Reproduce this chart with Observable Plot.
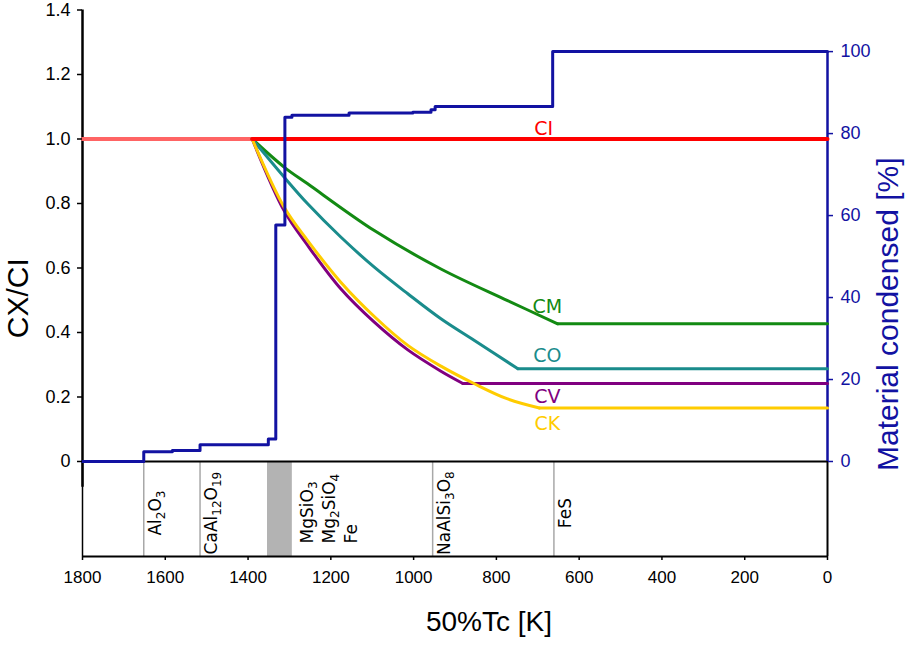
<!DOCTYPE html>
<html><head><meta charset="utf-8">
<script src="https://cdn.jsdelivr.net/npm/d3@7"></script>
<script src="https://cdn.jsdelivr.net/npm/@observablehq/plot@0.6"></script>
<style>body{margin:0;background:#fff} #chart svg{display:block}</style>
</head><body><div id="chart"></div>
<script>
// ---- data ----
const xTicks = [1800,1600,1400,1200,1000,800,600,400,200,0];
const leftTicks = [0,0.2,0.4,0.6,0.8,1.0,1.2,1.4];
const leftTickLabels = ["0","0.2","0.4","0.6","0.8","1.0","1.2","1.4"];
const rightTicks = [0,20,40,60,80,100];
const rightMax = 1.271; // left-axis value where 100 % sits

// material condensed [%] step line
const stepT   = [1800,1652,1583,1516,1351,1333,1311,1294,1156,1002,958,948,664,0];
const stepPct = [0,2.4,2.7,4.1,5.5,57.7,84.0,84.5,85.0,85.2,85.8,86.6,100,100];

// CI reference
const ciT = [1800,1390,0];
const ciV = [1.0,1.0,1.0];

// chondrite depletion curves
const cmT = [1390,1313,1256,1095,934,773,652];
const cmV = [1.0,0.913,0.861,0.716,0.597,0.499,0.427];
const coT = [1390,1313,1256,1176,1095,1014,934,853,748];
const coV = [1.0,0.882,0.799,0.696,0.6025,0.52,0.4425,0.375,0.2875];
const cvT = [1390,1313,1256,1176,1095,1014,934,881];
const cvV = [1.0,0.778,0.670,0.5355,0.432,0.346,0.280,0.242];
const ckT = [1390,1313,1256,1176,1095,1014,934,853,773,696];
const ckV = [1.0,0.789,0.685,0.556,0.4496,0.36,0.2956,0.241,0.194,0.166];
const seriesNames = ["CM","CO","CV","CK"];

// condensing phases
const phaseNames = ["Al₂O₃","CaAl₁₂O₁₉","NaAlSi₃O₈","FeS"];
const phaseT = [1652,1516,954,661];
const bandT = [1353,1293];
const bandNames = "MgSiO₃\nMg₂SiO₄\nFe";

// ---- styles ----
const BLUE = "#1212a2", RED = "#ff0000", LIGHTRED = "#ff6464";
const colors = {CM:"#138a13", CO:"#1a8c8c", CV:"#800080", CK:"#ffcc00"};
const labelDy = {CM:-17, CO:-13, CV:13, CK:16};
const labelT = 677;
const yLow = -0.2946;
const SANS = "'Liberation Sans', Arial, sans-serif";
const VERD = "'DejaVu Sans', Verdana, sans-serif";

const series = {CM:[cmT,cmV], CO:[coT,coV], CV:[cvT,cvV], CK:[ckT,ckV]};
const pts = (T,V) => T.map((t,i)=>({t, v:V[i]}));

const marks = [];
// lower panel
marks.push(Plot.rect([bandT], {x1:d=>d[0], x2:d=>d[1], y1:yLow, y2:0, fill:"#b3b3b3"}));
marks.push(Plot.ruleX(phaseT, {y1:yLow, y2:0, stroke:"#a8a8a8", strokeWidth:1.5}));
marks.push(Plot.ruleY([yLow], {x1:1800, x2:0, stroke:"#000", strokeWidth:2}));
marks.push(Plot.ruleX([1800], {y1:yLow, y2:0, stroke:"#000", strokeWidth:1.5}));
marks.push(Plot.ruleX([0], {y1:yLow, y2:0, stroke:"#000", strokeWidth:2}));
marks.push(Plot.text(phaseNames, {x:phaseT, y:-0.16, rotate:-90, dx:12, fontSize:17, fontFamily:VERD, fill:"#000", textAnchor:"middle", lineAnchor:"middle", className:"subs"}));
marks.push(Plot.text([bandNames], {x:[bandT[1]], y:[-0.254], rotate:-90, dx:5, fontSize:17, fontFamily:VERD, fill:"#000", textAnchor:"start", lineAnchor:"top", lineHeight:1.3, className:"subs"}));
// axes lines
marks.push(Plot.ruleY([0], {x1:1800, x2:0, stroke:"#000", strokeWidth:2}));
marks.push(Plot.ruleX([1800], {y1:-0.08, y2:1.4, stroke:"#000", strokeWidth:2.5}));
marks.push(Plot.ruleX([0], {y1:0, y2:rightMax, stroke:BLUE, strokeWidth:2.5}));
// CI
const ci = pts(ciT, ciV);
marks.push(Plot.line(ci.slice(0,2), {x:"t", y:"v", stroke:LIGHTRED, strokeWidth:4}));
// curves
for (const s of seriesNames) {
  const [T,V] = series[s];
  const p = pts(T,V);
  marks.push(Plot.line(p, {x:"t", y:"v", curve:"catmull-rom", stroke:colors[s], strokeWidth:3}));
  marks.push(Plot.line([p[p.length-1], {t:0, v:V[V.length-1]}], {x:"t", y:"v", stroke:colors[s], strokeWidth:3}));
  marks.push(Plot.text([s], {x:labelT, y:V[V.length-1], dy:labelDy[s], fill:colors[s], fontSize:19, fontFamily:VERD, textAnchor:"middle", lineAnchor:"middle"}));
}
marks.push(Plot.line(ci.slice(1), {x:"t", y:"v", stroke:RED, strokeWidth:4}));
marks.push(Plot.text(["CI"], {x:686, y:1.0, dy:-10, fill:RED, fontSize:19, fontFamily:VERD, textAnchor:"middle", lineAnchor:"middle"}));
// step line
marks.push(Plot.line(pts(stepT, stepPct), {x:"t", y:d=>d.v*rightMax/100, curve:"step-after", stroke:BLUE, strokeWidth:3}));
// axes
marks.push(Plot.axisX(xTicks, {anchor:"bottom", tickSize:4, tickPadding:10, fontSize:17, fontFamily:SANS, label:null, stroke:"#000", fill:"#000", strokeWidth:1.5,
  tickFormat:d=>String(d)}));
marks.push(Plot.axisY(leftTicks, {anchor:"left", tickSize:5, tickPadding:7, fontSize:18, fontFamily:SANS, label:null, stroke:"#000", fill:"#000", strokeWidth:1.5,
  tickFormat:d=>leftTickLabels[leftTicks.indexOf(d)]}));
marks.push(Plot.axisY(rightTicks.map(d=>d*rightMax/100), {anchor:"right", tickSize:5, tickPadding:8, fontSize:18, fontFamily:SANS, label:null, stroke:BLUE, fill:BLUE, strokeWidth:1.5,
  tickFormat:d=>String(Math.round(d*100/rightMax))}));
// titles
marks.push(Plot.text(["50%Tc [K]"], {frameAnchor:"bottom", dx:34, dy:66, fontSize:28, fontFamily:SANS, fill:"#000", textAnchor:"middle", lineAnchor:"middle"}));
marks.push(Plot.text(["CX/CI"], {frameAnchor:"left", rotate:-90, dx:-64, dy:15, fontSize:30, fontFamily:SANS, fill:"#000", textAnchor:"middle", lineAnchor:"middle"}));
marks.push(Plot.text(["Material condensed [%]"], {frameAnchor:"right", rotate:-90, dx:61, dy:31, fontSize:30, fontFamily:SANS, fill:BLUE, textAnchor:"middle", lineAnchor:"middle"}));

const chart = Plot.plot({
  width: 910, height: 645,
  marginLeft: 82, marginRight: 83, marginTop: 9.5, marginBottom: 89,
  style: {fontFamily: SANS, background: "#fff", color: "#000"},
  x: {domain: [1800, 0], axis: null},
  y: {domain: [yLow, 1.4], axis: null},
  marks
});

// render Unicode subscript digits as real subscript tspans
const SUB = "₀₁₂₃₄₅₆₇₈₉";
d3.select(chart).selectAll("g.subs text, g.subs tspan").each(function() {
  if (this.children.length) return;
  const s = this.textContent;
  if (![...s].some(c => SUB.includes(c))) return;
  this.textContent = "";
  const runs = [];
  for (const c of s) {
    const sub = SUB.includes(c);
    const ch = sub ? String(SUB.indexOf(c)) : c;
    if (runs.length && runs[runs.length-1].sub === sub) runs[runs.length-1].t += ch;
    else runs.push({sub, t: ch});
  }
  const el = d3.select(this);
  for (const r of runs) {
    const ts = el.append("tspan").text(r.t);
    if (r.sub) ts.attr("font-size", 12).attr("baseline-shift", -4);
  }
});
document.getElementById("chart").appendChild(chart);
</script>
</body></html>
